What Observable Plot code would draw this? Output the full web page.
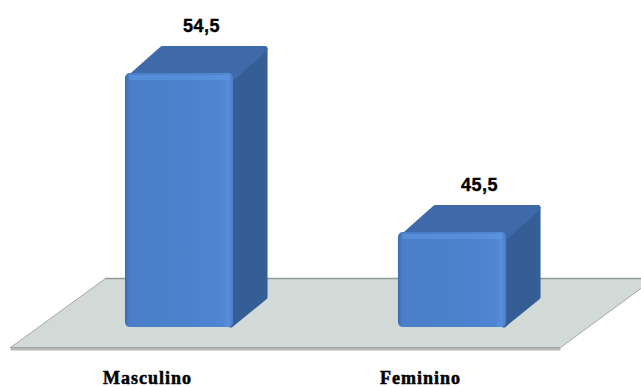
<!DOCTYPE html>
<html lang="pt">
<head>
<meta charset="utf-8">
<script src="https://cdn.jsdelivr.net/npm/d3@7"></script>
<script src="https://cdn.jsdelivr.net/npm/@observablehq/plot@0.6"></script>
<style>
  html, body { margin: 0; padding: 0; background: #fff; overflow: hidden; }
  svg { display: block; }
  .category-label text { letter-spacing: 1px; }
  .value-label text { letter-spacing: 0.5px; }
</style>
</head>
<body>
<script>
const categories = ["Masculino", "Feminino"];
const values = [54.5, 45.5];
const valueLabelShift = [0, 0.018];

// Box proportions, in the units of the two scales
const baseline = 40.12;
const halfWidth = 0.198;
const depthX = 0.1245;
const depthY = 1.56;
const insetX = 0.011;
const insetY = 0.17;

// Floor corners, in the same units
const floorFront = 38.99;
const floorBack = 42.9;
const floorX = [-0.619, 1.3956, 1.74, -0.271];
const slabDrop = 0.17;

const bars = categories.map((name, i) => ({name, value: values[i], i, shift: valueLabelShift[i]}));

function poly(face, points) {
  return points.map(([x, y]) => ({face, x, y}));
}

const floor = poly("floor", [
  [floorX[0], floorFront], [floorX[1], floorFront], [floorX[2], floorBack], [floorX[3], floorBack]
]);
const slab = poly("slab", [
  [floorX[0], floorFront], [floorX[1], floorFront],
  [floorX[1], floorFront - slabDrop], [floorX[0], floorFront - slabDrop]
]);

// Faces are pulled in slightly so the round stroke softens their corners
const topFaces = bars.flatMap((b) => poly(`top${b.i}`, [
  [b.i - halfWidth + 2 * insetX, b.value - insetY],
  [b.i + halfWidth, b.value - insetY],
  [b.i + halfWidth + depthX - insetX, b.value + depthY - insetY],
  [b.i - halfWidth + depthX + insetX, b.value + depthY - insetY]
]));
const sideFaces = bars.flatMap((b) => poly(`side${b.i}`, [
  [b.i + halfWidth - insetX, baseline + insetY],
  [b.i + halfWidth + depthX - insetX, baseline + depthY + insetY],
  [b.i + halfWidth + depthX - insetX, b.value + depthY - insetY],
  [b.i + halfWidth - insetX, b.value - insetY]
]));

const face = (data, fill, stroke, strokeWidth) => Plot.line(data, {
  x: "x", y: "y", z: "face", curve: "linear-closed",
  fill, stroke, strokeWidth, strokeLinejoin: "round"
});

const chart = Plot.plot({
  width: 641,
  height: 387,
  margin: 0,
  x: {type: "linear", domain: [-0.6557, 1.6923], range: [0, 641], axis: null},
  y: {type: "linear", domain: [36.73, 58.63], range: [387, 0], axis: null},
  marks: [
    // Floor plate with its thin front edge
    face(slab, "#b4bcb2", "none", 0),
    face(floor, "#d2dad8", "none", 0),
    Plot.ruleY([floorBack], {x1: floorX[3], x2: floorX[2], stroke: "#8f9a96", strokeWidth: 1.5}),
    Plot.ruleY([floorFront], {x1: floorX[0], x2: floorX[1], stroke: "#a39aa6", strokeWidth: 1}),
    Plot.line(poly("l", [[floorX[0], floorFront], [floorX[3], floorBack]]), {x: "x", y: "y", stroke: "#a8a6ae", strokeWidth: 1}),
    Plot.line(poly("r", [[floorX[1], floorFront], [floorX[2], floorBack]]), {x: "x", y: "y", stroke: "#a8a6ae", strokeWidth: 1}),

    // Box faces
    face(sideFaces, "#355e97", "#355e97", 6),
    face(topFaces, "#3e6aa9", "#3f6aa9", 6),
    Plot.rect(bars, {
      x1: (d) => d.i - halfWidth, x2: (d) => d.i + halfWidth,
      y1: baseline, y2: "value",
      fill: "url(#frontShade)", rx: 5
    }),
    Plot.ruleY(bars, {
      y: "value", dy: 4,
      x1: (d) => d.i - halfWidth + 0.015, x2: (d) => d.i + halfWidth - 0.015,
      stroke: "#5f97e2", strokeWidth: 5, strokeOpacity: 0.6
    }),

    // Value and category labels
    Plot.text(bars, {
      x: (d) => d.i + d.shift, y: "value", dx: 22, dy: -47,
      text: (d) => d.value.toFixed(1).replace(".", ","),
      className: "value-label",
      fontFamily: "Liberation Sans", fontWeight: "bold", fontSize: 18,
      fill: "#000", stroke: "#000", strokeWidth: 0.4
    }),
    Plot.text(bars, {
      x: "i", y: baseline, dx: -32, dy: 51,
      text: "name",
      className: "category-label",
      fontFamily: "Liberation Serif", fontWeight: "bold", fontSize: 18,
      fill: "#000", stroke: "#000", strokeWidth: 0.5
    })
  ]
});

// Horizontal shading across the front of each box
const defs = d3.select(chart).insert("defs", ":first-child");
const frontShade = defs.append("linearGradient").attr("id", "frontShade");
[[0, "#3b6db3"], [0.04, "#4a7ec8"], [0.5, "#4b80cb"], [0.9, "#4f86d2"], [0.96, "#578fda"], [1, "#4a7cc2"]]
  .forEach(([o, c]) => frontShade.append("stop").attr("offset", o).attr("stop-color", c));

document.body.append(chart);
</script>
</body>
</html>
